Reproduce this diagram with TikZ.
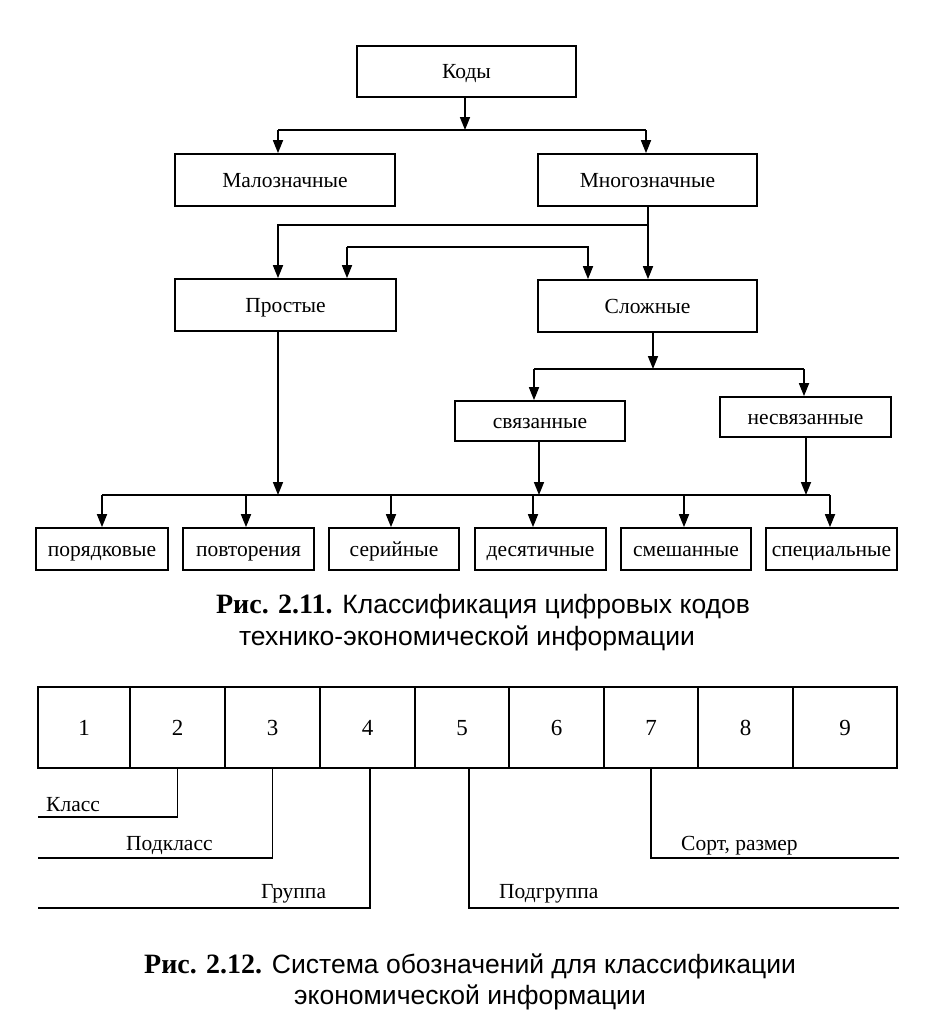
\documentclass[tikz,border=0pt]{standalone}
\usepackage{fontspec}
\setmainfont{Liberation Serif}
\newfontfamily\capsans{Liberation Sans}
\usetikzlibrary{arrows.meta}
\newcommand{\figlabel}[1]{{\fontsize{28}{31}\rmfamily\bfseries #1}}
\tikzset{
  box/.style={draw, line width=1.7pt, inner sep=0pt, text height=14pt, text depth=0pt, font=\fontsize{21.5}{25}\selectfont},
  cell/.style={draw, line width=1.4pt, inner sep=0pt, minimum height=81pt, text height=15pt, text depth=0pt, font=\fontsize{23}{27}\selectfont},
  conn/.style={line width=1.7pt},
  arr/.style={line width=1.7pt, -{Triangle[width=10pt,length=13pt]}},
  brk/.style={line width=1.4pt},
  lbl/.style={inner sep=0pt, font=\fontsize{21.5}{25}\selectfont},
  captxt/.style={inner sep=0pt, font=\fontsize{26.5}{31}\capsans}
}
\begin{document}
\begin{tikzpicture}[x=1pt,y=-1pt]
\useasboundingbox (0,0) rectangle (950,1029);
% ---- Fig 2.11 boxes
\node[box, minimum width=219pt, minimum height=51pt] (kody) at (466.5,71.5) {Коды};
\node[box, minimum width=220pt, minimum height=52pt] (malo) at (285,180) {Малозначные};
\node[box, minimum width=219pt, minimum height=52pt] (mnogo) at (647.5,180) {Многозначные};
\node[box, minimum width=221pt, minimum height=52pt] (prost) at (285.5,305) {Простые};
\node[box, minimum width=219pt, minimum height=52pt] (slozh) at (647.5,306) {Сложные};
\node[box, minimum width=170pt, minimum height=40pt] (svyaz) at (540,421) {связанные};
\node[box, minimum width=171pt, minimum height=40pt] (nesvyaz) at (805.5,417) {несвязанные};
\node[box, minimum width=132pt, minimum height=42pt] (por) at (102,549) {порядковые};
\node[box, minimum width=131pt, minimum height=42pt] (povt) at (248.5,549) {повторения};
\node[box, minimum width=130pt, minimum height=42pt] (ser) at (394,549) {серийные};
\node[box, minimum width=131pt, minimum height=42pt] (des) at (540.5,549) {десятичные};
\node[box, minimum width=130pt, minimum height=42pt] (sme) at (686,549) {смешанные};
\node[box, minimum width=131pt, minimum height=42pt] (spec) at (831.5,549) {специальные};
% ---- junction coordinates
\coordinate (j1) at (465,130);
\coordinate (j1l) at (278,130);
\coordinate (j1r) at (646,130);
\coordinate (m1) at (648,225);
\coordinate (m1l) at (278,225);
\coordinate (p1l) at (347,247);
\coordinate (p1r) at (588,247);
\coordinate (s1) at (653,369);
\coordinate (s1l) at (534,369);
\coordinate (s1r) at (804,369);
\coordinate (bl) at (102,495);
\coordinate (br) at (830,495);
\coordinate (pb) at (278,495);
\coordinate (sb) at (539,495);
\coordinate (nb) at (806,495);
% ---- connectors
\draw[arr] (kody.south -| j1) -- (j1);
\draw[conn] (j1l) -- (j1r);
\draw[arr] (j1l) -- (j1l |- malo.north);
\draw[arr] (j1r) -- (j1r |- mnogo.north);
\draw[arr] (mnogo.south -| m1) -- (m1 |- slozh.north);
\draw[arr] (m1) -- (m1l) -- (m1l |- prost.north);
\draw[arr] (p1l) -- (p1r) -- (p1r |- slozh.north);
\draw[arr] (p1l) -- (p1l |- prost.north);
\draw[arr] (prost.south -| pb) -- (pb);
\draw[arr] (slozh.south -| s1) -- (s1);
\draw[conn] (s1l) -- (s1r);
\draw[arr] (s1l) -- (s1l |- svyaz.north);
\draw[arr] (s1r) -- (s1r |- nesvyaz.north);
\draw[arr] (svyaz.south -| sb) -- (sb);
\draw[arr] (nesvyaz.south -| nb) -- (nb);
\draw[conn] (bl) -- (br);
\foreach \xx/\nn in {102/por,246/povt,391/ser,533/des,684/sme,830/spec}{
  \draw[arr] (\xx,495) -- (\xx,495 |- \nn.north);
}
% ---- caption 2.11
\node[captxt] (cap1a) at (483,607) {\figlabel{Рис. 2.11.} Классификация цифровых кодов};
\node[captxt] (cap1b) at (467,638) {технико-экономической информации};
% ---- Fig 2.12 cells
\foreach \i/\a/\b in {1/38/130,2/130/225,3/225/320,4/320/415,5/415/509,6/509/604,7/604/698,8/698/793,9/793/897}{
  \pgfmathsetmacro{\w}{\b-\a}
  \pgfmathsetmacro{\c}{(\a+\b)/2}
  \node[cell, minimum width=\w pt] (c\i) at (\c,727.5) {\i};
}
% ---- brackets
\coordinate (kl) at (38,817);
\coordinate (pk) at (38,858);
\coordinate (gr) at (38,908);
\coordinate (pg) at (899,908);
\coordinate (sr) at (899,858);
\coordinate (c4b) at (370,768);
\coordinate (c5b) at (469,768);
\draw[brk] (c2.south) |- (kl);
\draw[brk] (c3.south) |- (pk);
\draw[brk] (c4b) |- (gr);
\draw[brk] (c5b) |- (pg);
\draw[brk] (c7.south) |- (sr);
\node[lbl, anchor=base west] (tkl) at (46,811) {Класс};
\node[lbl, anchor=base west] (tpk) at (126,850) {Подкласс};
\node[lbl, anchor=base west] (tgr) at (261,898) {Группа};
\node[lbl, anchor=base west] (tpg) at (499,898) {Подгруппа};
\node[lbl, anchor=base west] (tsr) at (681,850) {Сорт, размер};
% ---- caption 2.12
\node[captxt] (cap2a) at (470,966) {\figlabel{Рис. 2.12.} Система обозначений для классификации};
\node[captxt] (cap2b) at (470,997) {экономической информации};
\end{tikzpicture}
\end{document}
